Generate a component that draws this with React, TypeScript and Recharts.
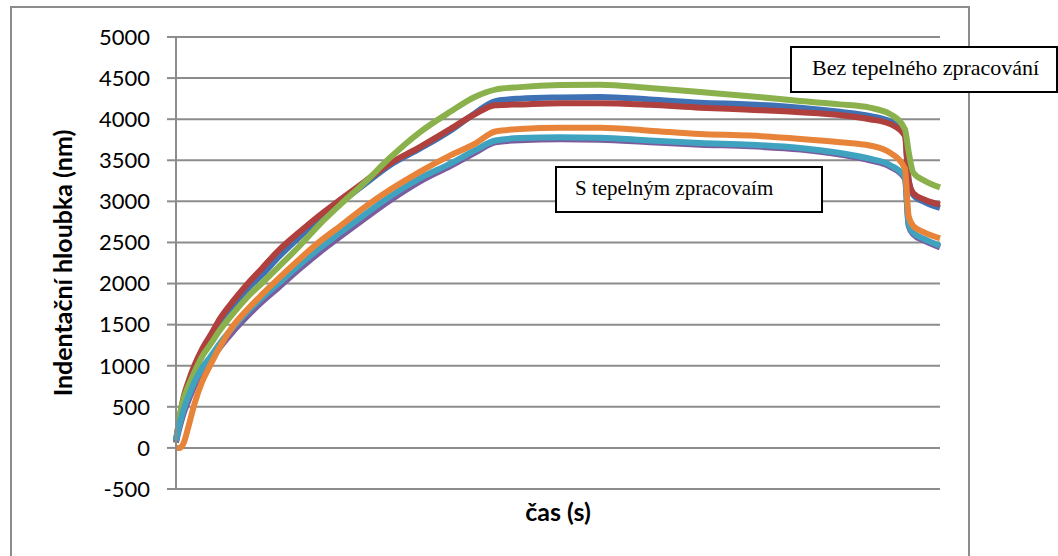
import { LineChart, Line, XAxis, YAxis, CartesianGrid } from "recharts";

// time axis (no tick labels in the original), scaled 0..100
const time = [
  0, 0.5, 1, 1.6, 2.4, 3.4, 4.5, 5.8, 7.6, 9.4, 11.3, 13.4, 16.2, 18.8, 21.5, 24.7, 28, 31.9,
  35.9, 39.1, 41.8, 45, 50.3, 55.5, 62, 68.6, 75.1, 81.7, 86.9, 90.8, 93.5, 95.4, 95.9, 96.5, 98, 100,
];

// indentation depth (nm)
const blue = [
  100, 360, 590, 760, 950, 1150, 1320, 1500, 1720, 1940, 2110, 2320, 2570, 2780, 2980, 3210, 3440, 3640,
  3860, 4070, 4220, 4250, 4265, 4270, 4240, 4200, 4180, 4140, 4090, 4040, 3970, 3830, 3260, 3080, 2990, 2920,
];
const red = [
  80, 380, 620, 800, 1000, 1200, 1370, 1580, 1800, 2000, 2190, 2400, 2630, 2830, 3020, 3240, 3460, 3660,
  3880, 4060, 4170, 4180, 4195, 4195, 4175, 4140, 4115, 4085, 4050, 4000, 3940, 3800, 3250, 3100, 3020, 2960,
];
const green = [
  60, 400, 600, 750, 920, 1110, 1260, 1440, 1650, 1840, 2010, 2200, 2460, 2720, 2960, 3230, 3530, 3840,
  4090, 4270, 4360, 4390, 4415, 4420, 4380, 4330, 4280, 4220, 4180, 4140, 4060, 3880, 3600, 3350, 3250, 3170,
];
const purple = [
  70, 260, 420, 570, 750, 920, 1060, 1230, 1430, 1610, 1780, 1950, 2180, 2380, 2570, 2790, 3010, 3240,
  3430, 3590, 3720, 3745, 3755, 3750, 3720, 3690, 3670, 3630, 3570, 3500, 3420, 3280, 2700, 2600, 2520, 2440,
];
const cyan = [
  90, 300, 470, 620, 800, 970, 1110, 1280, 1480, 1660, 1830, 2000, 2230, 2430, 2620, 2840, 3060, 3280,
  3460, 3620, 3740, 3770, 3780, 3775, 3740, 3710, 3690, 3650, 3590, 3520, 3440, 3300, 2720, 2620, 2540, 2460,
];
const orange = [
  0, 0, 60, 250, 530, 800, 1010, 1240, 1500, 1690, 1870, 2060, 2300, 2510, 2700, 2930, 3140, 3360,
  3560, 3700, 3850, 3880, 3895, 3895, 3860, 3820, 3800, 3760, 3720, 3680, 3590, 3400, 2820, 2700, 2620, 2550,
];

const yTicks = [-500, 0, 500, 1000, 1500, 2000, 2500, 3000, 3500, 4000, 4500, 5000];

const data = time.map((t, i) => ({
  t,
  s1: blue[i],
  s2: red[i],
  s3: green[i],
  s4: purple[i],
  s5: cyan[i],
  s6: orange[i],
}));

const series = [
  { key: "s1", color: "#3E72B5" },
  { key: "s2", color: "#B0403D" },
  { key: "s3", color: "#8AB14B" },
  { key: "s4", color: "#7B5C9E" },
  { key: "s5", color: "#3FA3C0" },
  { key: "s6", color: "#E8843A" },
];

const gridColor = "#8c8c8c";
const sans = "Lato, 'Open Sans', sans-serif";
const serif = "'Liberation Serif', 'Times New Roman', serif";

const boxStyle: React.CSSProperties = {
  position: "absolute",
  boxSizing: "border-box",
  border: "2px solid #000",
  background: "#fff",
  fontFamily: serif,
  color: "#000",
  whiteSpace: "nowrap",
};

export default function App() {
  return (
    <div
      style={{
        position: "fixed",
        left: 0,
        top: 0,
        width: 1058,
        height: 556,
        overflow: "hidden",
        background: "#fff",
      }}
    >
      <div
        style={{
          position: "absolute",
          left: 10,
          top: 6,
          width: 960,
          height: 600,
          boxSizing: "border-box",
          border: `2px solid ${gridColor}`,
        }}
      />
      <div style={{ position: "absolute", left: 0, top: 0 }}>
        <LineChart
          width={1058}
          height={556}
          data={data}
          margin={{ top: 37, right: 118, bottom: 0, left: 0 }}
        >
          <CartesianGrid vertical={false} stroke={gridColor} strokeWidth={2} />
          <XAxis
            dataKey="t"
            type="number"
            domain={[0, 100]}
            tick={false}
            axisLine={false}
            tickLine={false}
            height={67}
            label={{
              value: "čas (s)",
              position: "insideTop",
              offset: 14,
              style: { fontFamily: sans, fontWeight: 700, fontSize: 25, fill: "#000" },
            }}
          />
          <YAxis
            type="number"
            domain={[-500, 5000]}
            ticks={yTicks}
            interval={0}
            width={176}
            axisLine={{ stroke: gridColor, strokeWidth: 2 }}
            tickLine={{ stroke: gridColor, strokeWidth: 2 }}
            tickSize={9}
            tickMargin={17}
            tick={{ fill: "#000", fontSize: 22, fontFamily: sans }}
            label={{
              value: "Indentační hloubka (nm)",
              angle: -90,
              position: "insideLeft",
              offset: 63,
              style: {
                textAnchor: "middle",
                fontFamily: sans,
                fontWeight: 700,
                fontSize: 25,
                fill: "#000",
              },
            }}
          />
          {series.map((s) => (
            <Line
              key={s.key}
              type="monotone"
              dataKey={s.key}
              stroke={s.color}
              strokeWidth={6}
              dot={false}
              activeDot={false}
              isAnimationActive={false}
            />
          ))}
        </LineChart>
      </div>
      <div
        style={{
          ...boxStyle,
          left: 555,
          top: 166,
          width: 268,
          height: 47,
          fontSize: 21,
          lineHeight: "24px",
          paddingTop: 8,
          paddingLeft: 18,
        }}
      >
        S tepelným zpracovaím
      </div>
      <div
        style={{
          ...boxStyle,
          left: 790,
          top: 46,
          width: 268,
          height: 47,
          fontSize: 22,
          lineHeight: "25px",
          paddingTop: 7,
          paddingLeft: 20,
        }}
      >
        Bez tepelného zpracování
      </div>
    </div>
  );
}
